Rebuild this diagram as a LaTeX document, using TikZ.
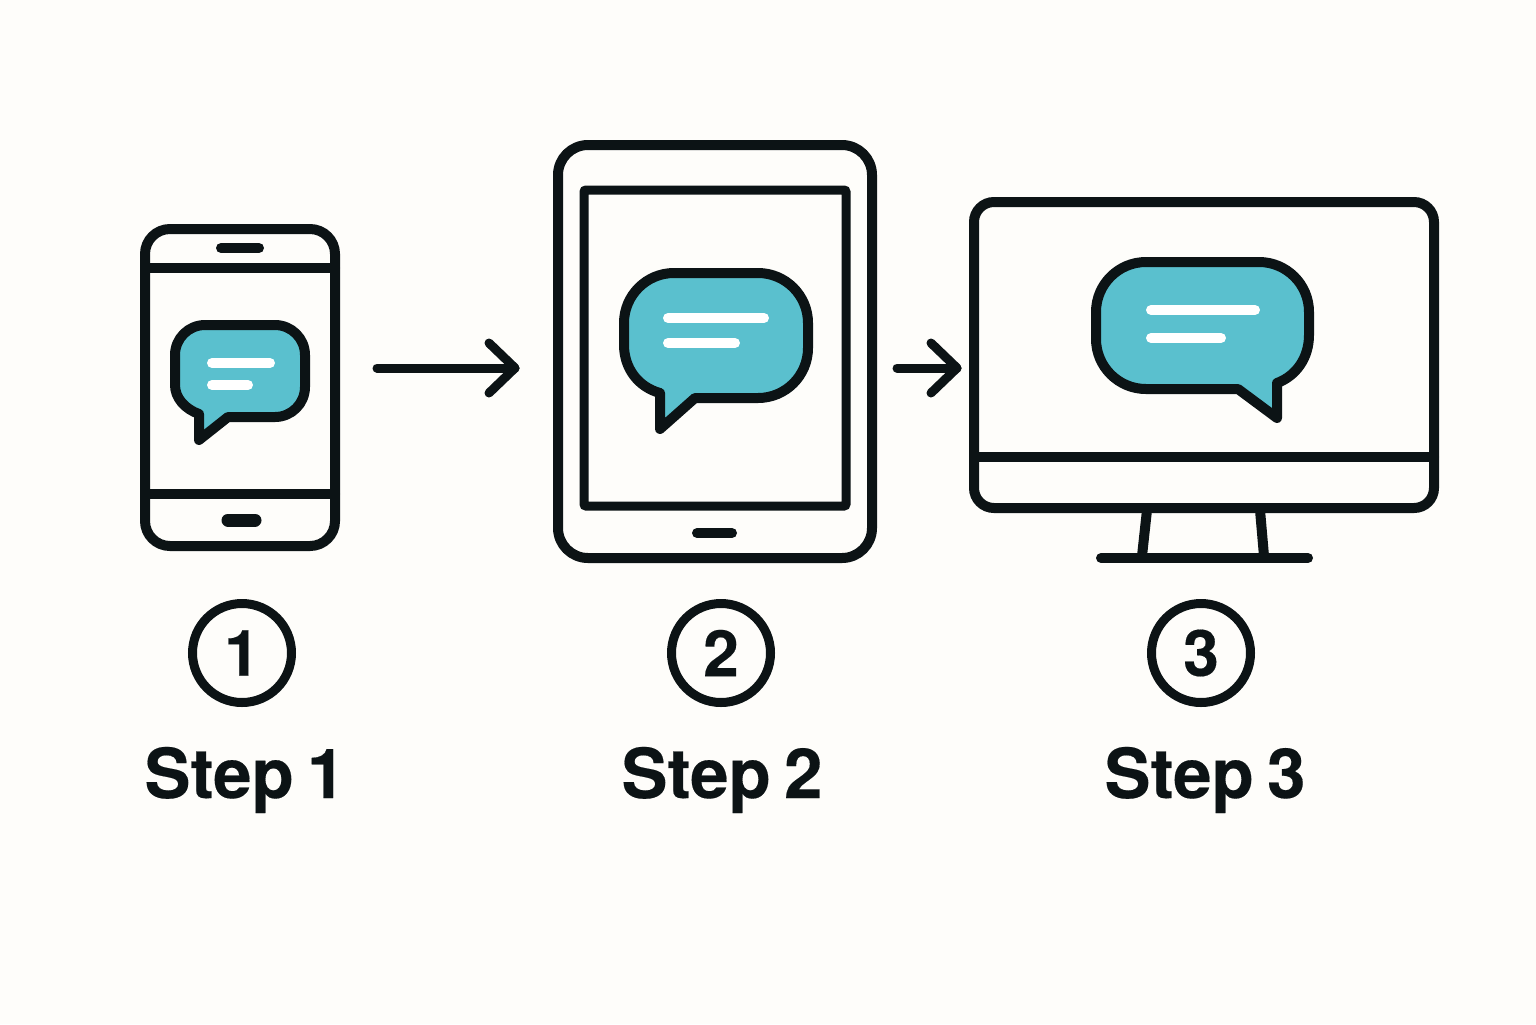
\documentclass[tikz,border=0pt]{standalone}
\usepackage{fontspec}
\setmainfont[WordSpace=0.7, BoldFeatures={FakeBold=0.25}]{TeX Gyre Heros}
\usetikzlibrary{arrows.meta}
\definecolor{clrink}{HTML}{0C1315}
\definecolor{clrteal}{HTML}{5AC0CE}
\definecolor{clrpaper}{HTML}{FEFDFA}
\tikzset{
    device/.style={draw=clrink, line width=5pt, rectangle, inner sep=0pt},
    devline/.style={draw=clrink, line width=5pt, line cap=round},
    bubble/.style={draw=clrink, fill=clrteal, line width=5pt, line join=round},
    msgline/.style={draw=white, line width=5pt, line cap=round},
    flow/.style={draw=clrink, line width=4.5pt, line cap=round, line join=round},
    stepcircle/.style={draw=clrink, line width=4.5pt, circle, minimum size=49.5pt, inner sep=0pt,
        font=\fontsize{32pt}{32pt}\selectfont\bfseries, text=clrink},
    steplabel/.style={anchor=base, inner sep=0pt, text=clrink,
        font=\fontsize{34.5pt}{34.5pt}\selectfont\bfseries},
}

\begin{document}
\begin{tikzpicture}[x=0.5pt, y=-0.5pt]
    \path[use as bounding box, fill=clrpaper] (0,0) rectangle (1536,1024);

    % phone
    \node[device, minimum width=95pt, minimum height=158.5pt, rounded corners=12.5pt] (phone) at (240,387.5) {};
    \draw[devline] (145,268) -- (335,268);
    \draw[devline] (145,494) -- (335,494);
    \draw[devline] (221,248) -- (259,248);
    \draw[devline, line width=6.5pt] (228,520) -- (255,520);
    \draw[bubble] (199,414) .. controls (185,409) and (175,398) .. (175,385)
        [rounded corners=15pt] -- (175,325) -- (305,325) -- (305,417)
        [sharp corners] -- (228,417) -- (199,440) -- cycle;
    \draw[msgline] (212,363) -- (270,363);
    \draw[msgline] (212,385) -- (248,385);

    % tablet
    \node[device, minimum width=157pt, minimum height=206.5pt, rounded corners=15pt] (tablet) at (715,351.5) {};
    \node[device, line width=4.5pt, minimum width=131pt, minimum height=158pt, rounded corners=1pt] (screen) at (715,348) {};
    \draw[devline] (697,533) -- (732,533);
    \draw[bubble] (660,393) .. controls (638,387) and (624,368) .. (624,345)
        [rounded corners=25pt] -- (624,273) -- (808,273) -- (808,398)
        [sharp corners] -- (695,398) -- (660,429) -- cycle;
    \draw[msgline] (668,318) -- (764,318);
    \draw[msgline] (668,343) -- (735,343);

    % monitor
    \node[device, minimum width=230pt, minimum height=153pt, rounded corners=10pt] (monitor) at (1204,355) {};
    \draw[devline] (974,457) -- (1434,457);
    \draw[devline, line cap=butt] (1147,510) -- (1142,556);
    \draw[devline, line cap=butt] (1260,510) -- (1264,556);
    \draw[devline] (1101,558) -- (1308,558);
    \draw[bubble] (1277,383) .. controls (1296,376) and (1309,358) .. (1309,335)
        [rounded corners=25pt] -- (1309,262) -- (1096,262) -- (1096,389)
        [sharp corners] -- (1238,389) -- (1277,418) -- cycle;
    \draw[msgline] (1151,310) -- (1255,310);
    \draw[msgline] (1151,338) -- (1221,338);

    % arrows
    \coordinate (flow1a) at (377,368);
    \coordinate (flow1b) at (515,368);
    \coordinate (flow2a) at (897,368);
    \coordinate (flow2b) at (957,368);
    \foreach \i in {1,2} {
        \draw[flow] (flow\i a) -- (flow\i b);
        \draw[flow] ([shift={(-26,-25)}]flow\i b) -- (flow\i b) -- ([shift={(-26,25)}]flow\i b);
    }

    % numbers and labels
    \foreach \i/\cx/\lx in {1/242/245,2/721/722,3/1201/1205} {
        \node[stepcircle] (num\i) at (\cx,653) {\i};
        \node[steplabel] (label\i) at (\lx,798) {Step \i};
    }
\end{tikzpicture}
\end{document}
